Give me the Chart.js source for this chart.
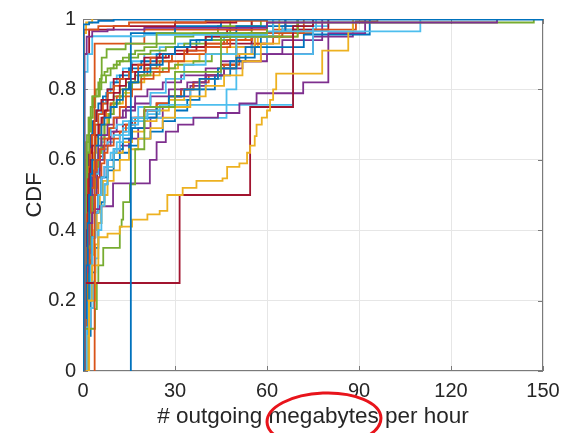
<!DOCTYPE html>
<html>
<head>
<meta charset="utf-8">
<script src="https://cdn.jsdelivr.net/npm/chart.js@4/dist/chart.umd.min.js"></script>
<style>
  html, body { margin: 0; padding: 0; background: #fff; }
  #chart { display: block; }
</style>
</head>
<body>
<canvas id="chart" width="576" height="433"></canvas>
<script>
// CDF of outgoing megabytes per hour, one stair curve per host

const xTicks = [0, 30, 60, 90, 120, 150];
const yTicks = [0, 0.2, 0.4, 0.6, 0.8, 1];
const yTickLabels = ['0', '0.2', '0.4', '0.6', '0.8', '1'];

// near-vertical curves hugging the top
const t1x = [0.2, 0.2, 2, 5, 10, 150];
const t1y = [0, 0.985, 0.99, 0.995, 0.998, 1];
const t2x = [0.3, 0.3, 5, 15, 40, 60];
const t2y = [0, 0.97, 0.98, 0.99, 0.995, 1];
const t3x = [0.1, 0.1, 1, 3];
const t3y = [0, 0.96, 0.99, 1];
const t4x = [0.5, 0.5, 1.2, 3, 8, 20, 60, 135];
const t4y = [0, 0.9, 0.95, 0.965, 0.97, 0.975, 0.99, 1];
const t5x = [0.2, 0.5, 1, 2, 3, 5.5, 6.1, 7.7, 13.9, 24, 60, 147];
const t5y = [0, 0.5, 0.65, 0.72, 0.78, 0.83, 0.89, 0.914, 0.93, 0.96, 0.99, 1];
const t6x = [0.5, 0.5, 1.5, 3, 20, 60, 110];
const t6y = [0, 0.85, 0.9, 0.951, 0.955, 0.965, 1];
const t7x = [0.3, 0.3, 2, 10, 30, 50];
const t7y = [0, 0.9, 0.97, 0.98, 0.99, 1];

// special curves
const s1x = [15.6, 15.6, 30, 45];
const s1y = [0, 0.96, 0.98, 1];
const s2x = [3.8, 3.8, 20, 60];
const s2y = [0, 0.93, 0.97, 1];
const s3x = [0.5, 2, 4, 5, 8, 12, 16, 21, 25, 27.5, 32.5, 37, 45.5, 47, 51, 53.5, 54.5, 56, 56.6, 58.3, 60, 61, 62, 63, 78, 86.5, 88];
const s3y = [0, 0.2, 0.3, 0.38, 0.39, 0.41, 0.43, 0.445, 0.455, 0.5, 0.52, 0.54, 0.547, 0.58, 0.59, 0.62, 0.64, 0.667, 0.7, 0.72, 0.74, 0.77, 0.8, 0.845, 0.91, 0.965, 1];
const s4x = [0.5, 0.5, 31.5, 54.5, 68.5, 75];
const s4y = [0, 0.25, 0.5, 0.75, 0.98, 1];
const s5x = [0.3, 0.3, 3.9, 4.5, 5, 6.6, 12, 12.6, 13.1, 15.3, 17, 20, 30, 45, 70];
const s5y = [0, 0.12, 0.176, 0.25, 0.3, 0.35, 0.41, 0.43, 0.48, 0.53, 0.63, 0.75, 0.85, 0.95, 1];
const s6x = [1.2, 1.2, 2.3, 3.4, 4, 5, 6, 7, 8, 10, 12, 15, 18, 22, 27, 33, 40, 50, 62];
const s6y = [0, 0.124, 0.179, 0.254, 0.32, 0.4, 0.47, 0.53, 0.58, 0.63, 0.67, 0.71, 0.75, 0.79, 0.83, 0.87, 0.9, 0.95, 1];

// main bundle
const b1x = [0.3, 0.6, 1, 1.5, 2, 2.5, 3, 4, 5, 6, 7, 9, 11, 13, 15, 18, 22, 26, 30, 35, 42, 50, 62];
const b1y = [0, 0.15, 0.3, 0.42, 0.5, 0.56, 0.6, 0.64, 0.67, 0.7, 0.72, 0.75, 0.77, 0.8, 0.82, 0.85, 0.87, 0.9, 0.92, 0.94, 0.96, 0.98, 1];
const b2x = [0.5, 0.8, 1.2, 1.8, 2.5, 3.5, 4.5, 5.5, 7, 8.5, 10, 12, 14, 16, 19, 23, 28, 33, 40, 48, 55, 72];
const b2y = [0, 0.2, 0.35, 0.45, 0.52, 0.57, 0.6, 0.63, 0.66, 0.69, 0.72, 0.75, 0.78, 0.8, 0.83, 0.85, 0.88, 0.9, 0.92, 0.94, 0.96, 1];
const b3x = [1, 1.5, 2, 3, 4, 5, 6, 7, 8, 10, 12, 15, 18, 22, 26, 30, 35, 40, 46, 52, 58, 64];
const b3y = [0, 0.1, 0.2, 0.3, 0.36, 0.42, 0.47, 0.5, 0.54, 0.57, 0.6, 0.63, 0.66, 0.69, 0.72, 0.75, 0.78, 0.81, 0.84, 0.88, 0.93, 1];
const b4x = [0.4, 0.7, 1, 1.5, 2, 3, 4, 5.5, 9.8, 21.8, 24, 27, 31, 36, 44, 51, 56.6, 71.8, 80, 92];
const b4y = [0, 0.15, 0.28, 0.36, 0.42, 0.45, 0.46, 0.468, 0.533, 0.6, 0.65, 0.68, 0.7, 0.72, 0.733, 0.76, 0.789, 0.82, 0.96, 1];
const b5x = [0.2, 0.4, 0.7, 1, 1.4, 2, 2.6, 3.2, 4, 5, 6, 7.5, 9, 11, 13, 15, 17, 20, 24, 30, 36, 44, 58];
const b5y = [0, 0.3, 0.45, 0.55, 0.62, 0.68, 0.72, 0.75, 0.78, 0.8, 0.82, 0.84, 0.86, 0.88, 0.89, 0.9, 0.91, 0.92, 0.93, 0.95, 0.96, 0.98, 1];
const b6x = [0.8, 1.2, 1.8, 2.5, 3, 4, 5, 6, 7, 8, 9, 11, 13, 15, 18, 21, 25, 68.5, 75];
const b6y = [0, 0.12, 0.2, 0.3, 0.38, 0.45, 0.5, 0.55, 0.58, 0.6, 0.62, 0.65, 0.68, 0.7, 0.72, 0.74, 0.756, 0.9, 1];
const b7x = [0.5, 0.8, 1.2, 1.6, 2, 2.5, 3, 4, 5, 6, 7, 8, 10, 12, 14, 17, 20, 24, 28, 34, 40, 47, 55];
const b7y = [0, 0.25, 0.4, 0.5, 0.56, 0.6, 0.64, 0.67, 0.7, 0.72, 0.74, 0.77, 0.79, 0.81, 0.83, 0.85, 0.87, 0.89, 0.9, 0.92, 0.95, 0.97, 1];
const b8x = [0.6, 1, 1.5, 2, 3, 4, 5, 6, 8, 10, 13, 16, 20, 24, 28, 33, 38, 44, 50, 56, 72, 93.5];
const b8y = [0, 0.1, 0.2, 0.3, 0.38, 0.45, 0.5, 0.55, 0.6, 0.63, 0.66, 0.69, 0.72, 0.75, 0.78, 0.8, 0.83, 0.86, 0.89, 0.92, 0.956, 1];
const b9x = [0.3, 0.5, 0.8, 1.2, 1.7, 2.3, 3, 4, 5, 6.5, 8, 10, 12, 15, 18, 22, 27, 33, 40, 47, 55, 65, 75, 89, 96];
const b9y = [0, 0.25, 0.4, 0.5, 0.58, 0.63, 0.67, 0.7, 0.73, 0.76, 0.79, 0.81, 0.83, 0.85, 0.87, 0.89, 0.9, 0.91, 0.93, 0.94, 0.95, 0.96, 0.97, 0.993, 1];
const b10x = [0.8, 1.3, 2, 2.8, 3.6, 4.5, 5.5, 6.5, 8, 10, 13, 16, 20, 24, 28, 33, 38, 44, 50, 56, 62];
const b10y = [0, 0.15, 0.25, 0.33, 0.4, 0.45, 0.5, 0.54, 0.58, 0.62, 0.65, 0.68, 0.71, 0.74, 0.77, 0.8, 0.83, 0.86, 0.9, 0.95, 1];
const b11x = [0.3, 0.6, 1, 1.5, 2, 3, 4, 5, 6, 8, 10, 13, 17, 22, 28, 34, 40, 46, 52, 58, 65, 78];
const b11y = [0, 0.2, 0.32, 0.42, 0.5, 0.55, 0.6, 0.64, 0.67, 0.7, 0.72, 0.74, 0.76, 0.78, 0.8, 0.82, 0.84, 0.86, 0.88, 0.9, 0.94, 1];
const b12x = [0.5, 1, 1.6, 2.2, 3, 4, 5, 6, 7, 8.5, 10, 12, 14, 16, 19, 22, 26, 30, 36, 42, 50, 60];
const b12y = [0, 0.2, 0.35, 0.45, 0.52, 0.58, 0.62, 0.66, 0.7, 0.73, 0.76, 0.78, 0.8, 0.82, 0.84, 0.85, 0.86, 0.87, 0.88, 0.9, 0.95, 1];
const b13x = [0.4, 0.8, 1.3, 2, 3, 4, 5, 6, 7, 9, 11, 13, 16, 46.8, 50, 60];
const b13y = [0, 0.25, 0.38, 0.48, 0.55, 0.6, 0.63, 0.65, 0.67, 0.69, 0.7, 0.71, 0.719, 0.8, 0.9, 1];
const b14x = [0.2, 0.5, 0.9, 1.4, 2, 2.8, 3.6, 4.5, 6, 8, 10, 13, 16, 20, 25, 30, 37, 45, 55, 68.5, 80];
const b14y = [0, 0.3, 0.45, 0.55, 0.62, 0.67, 0.71, 0.74, 0.77, 0.8, 0.83, 0.85, 0.87, 0.89, 0.9, 0.91, 0.92, 0.93, 0.95, 0.97, 1];
const b15x = [1.5, 2, 2.5, 3, 4, 5, 6, 7, 8, 10, 12, 15, 18, 22, 26, 30, 34, 38, 43, 48, 53, 58, 66];
const b15y = [0, 0.1, 0.2, 0.28, 0.35, 0.42, 0.48, 0.53, 0.57, 0.6, 0.62, 0.64, 0.66, 0.68, 0.71, 0.74, 0.77, 0.8, 0.84, 0.88, 0.92, 0.96, 1];
const b16x = [0.6, 1, 1.5, 2.2, 3, 4, 5, 6, 7, 8, 10, 12, 14, 17, 20, 24, 28, 32, 36, 41, 46, 51, 56, 62, 70];
const b16y = [0, 0.15, 0.28, 0.38, 0.45, 0.5, 0.55, 0.59, 0.62, 0.64, 0.66, 0.68, 0.7, 0.72, 0.74, 0.76, 0.78, 0.8, 0.82, 0.84, 0.87, 0.9, 0.93, 0.96, 1];
const b17x = [0.3, 0.6, 1, 1.5, 2, 2.5, 3.5, 4.5, 6, 8, 10, 13, 16, 20, 25, 31, 38, 47, 57, 70];
const b17y = [0, 0.2, 0.35, 0.45, 0.52, 0.57, 0.62, 0.66, 0.7, 0.73, 0.76, 0.79, 0.82, 0.84, 0.86, 0.88, 0.9, 0.92, 0.95, 1];
const b18x = [0.5, 0.9, 1.4, 2, 2.8, 3.6, 4.5, 5.5, 7, 9, 11, 14, 17, 21, 26, 32, 40, 50, 60, 75, 88];
const b18y = [0, 0.15, 0.28, 0.38, 0.45, 0.5, 0.55, 0.6, 0.64, 0.68, 0.72, 0.75, 0.78, 0.8, 0.82, 0.84, 0.86, 0.88, 0.9, 0.95, 1];
const b19x = [0.2, 0.4, 0.6, 0.9, 1.3, 1.8, 2.5, 3.3, 4.2, 5, 6, 7, 8, 10, 12, 15, 18, 22, 27, 33, 40, 48, 55];
const b19y = [0, 0.35, 0.5, 0.6, 0.67, 0.72, 0.75, 0.78, 0.8, 0.82, 0.84, 0.85, 0.86, 0.87, 0.88, 0.89, 0.9, 0.91, 0.92, 0.93, 0.94, 0.96, 1];
const b20x = [0.7, 1.1, 1.6, 2.2, 3, 4, 5, 6.5, 8, 10, 13, 17, 21, 25, 30, 35, 40, 45, 50, 55, 65, 76];
const b20y = [0, 0.2, 0.32, 0.42, 0.5, 0.56, 0.6, 0.63, 0.65, 0.67, 0.69, 0.71, 0.73, 0.75, 0.77, 0.8, 0.83, 0.86, 0.9, 0.95, 0.97, 1];
const b21x = [0.9, 1.3, 1.8, 2.4, 3, 3.8, 4.6, 5.5, 6.5, 8, 10, 13, 16, 20, 24, 28, 32, 36, 40, 45, 50, 55, 60, 66];
const b21y = [0, 0.15, 0.28, 0.38, 0.46, 0.52, 0.57, 0.61, 0.64, 0.66, 0.68, 0.7, 0.72, 0.74, 0.76, 0.78, 0.8, 0.82, 0.84, 0.87, 0.9, 0.93, 0.96, 1];
const b22x = [0.3, 0.5, 0.8, 1.2, 1.7, 2.3, 3, 4, 5, 6.5, 8, 10, 12, 15, 19, 24, 30, 37, 45, 54, 62, 70];
const b22y = [0, 0.3, 0.45, 0.55, 0.62, 0.67, 0.71, 0.74, 0.76, 0.78, 0.8, 0.82, 0.84, 0.86, 0.88, 0.9, 0.92, 0.94, 0.95, 0.96, 0.98, 1];
const b23x = [0.4, 0.7, 1.1, 1.6, 2.2, 3, 3.8, 4.6, 5.5, 6.5, 7.5, 9, 11, 13, 15, 18, 21, 25, 29, 34, 40, 46, 53, 62, 70];
const b23y = [0, 0.25, 0.38, 0.48, 0.55, 0.6, 0.64, 0.67, 0.7, 0.72, 0.74, 0.76, 0.78, 0.8, 0.82, 0.84, 0.86, 0.88, 0.9, 0.92, 0.93, 0.94, 0.95, 0.97, 1];
const b24x = [1, 1.6, 2.2, 3, 4, 5, 6, 7, 8, 10, 12, 15, 18, 22, 26, 30, 35, 40, 45, 50, 56, 62];
const b24y = [0, 0.2, 0.3, 0.38, 0.45, 0.5, 0.55, 0.58, 0.6, 0.62, 0.64, 0.66, 0.69, 0.72, 0.75, 0.78, 0.81, 0.84, 0.88, 0.92, 0.96, 1];
const b25x = [0.6, 1, 1.5, 2, 3, 4, 5, 6, 7, 8, 9, 10, 12, 14, 17, 20, 24, 29, 34, 40, 48];
const b25y = [0, 0.2, 0.32, 0.42, 0.5, 0.57, 0.62, 0.66, 0.7, 0.73, 0.76, 0.78, 0.8, 0.82, 0.84, 0.86, 0.88, 0.9, 0.92, 0.95, 1];
const b26x = [0.3, 0.6, 1, 1.5, 2.2, 3, 4, 5, 6, 7.5, 9, 11, 13, 16, 20, 25, 31, 38, 46, 55, 65, 80];
const b26y = [0, 0.3, 0.45, 0.55, 0.62, 0.67, 0.7, 0.73, 0.76, 0.79, 0.82, 0.84, 0.86, 0.88, 0.9, 0.92, 0.93, 0.94, 0.95, 0.96, 0.98, 1];

const curves = [
  [t1x, t1y], [t2x, t2y], [t3x, t3y], [t4x, t4y], [t5x, t5y], [t6x, t6y], [t7x, t7y],
  [s1x, s1y], [s2x, s2y], [s3x, s3y], [s4x, s4y], [s5x, s5y], [s6x, s6y],
  [b1x, b1y], [b2x, b2y], [b3x, b3y], [b4x, b4y], [b5x, b5y], [b6x, b6y], [b7x, b7y],
  [b8x, b8y], [b9x, b9y], [b10x, b10y], [b11x, b11y], [b12x, b12y], [b13x, b13y],
  [b14x, b14y], [b15x, b15y], [b16x, b16y], [b17x, b17y], [b18x, b18y], [b19x, b19y],
  [b20x, b20y], [b21x, b21y], [b22x, b22y], [b23x, b23y], [b24x, b24y], [b25x, b25y],
  [b26x, b26y]
];

// MATLAB default line colours
const palette = ['#0072BD', '#D95319', '#EDB120', '#7E2F8E', '#77AC30', '#4DBEEE', '#A2142F'];
const curveColor = [
  0, 1, 2, 3, 4, 5, 6,
  0, 1, 2, 6, 4, 5,
  0, 1, 2, 3, 4, 5, 6, 0, 1, 2, 3, 4, 5, 6, 0, 1, 2, 3, 4, 5, 6, 0, 1, 3, 4, 5
];

// 'before' = horizontal at the old level, then the jump at the new x
const datasets = curves.map(([xs, ys], i) => ({
  data: xs.map((x, j) => ({ x: x, y: ys[j] })),
  borderColor: palette[curveColor[i]],
  borderWidth: 1.8,
  stepped: 'before',
  pointRadius: 0,
  fill: false
}));

// box, inward ticks and the red hand-drawn ellipse
const matlabAxes = {
  id: 'matlabAxes',
  beforeDatasetsDraw(chart) {
    const { ctx, chartArea: a, scales: { x, y } } = chart;
    ctx.save();
    ctx.strokeStyle = '#7a7a7a';
    ctx.lineWidth = 1;
    ctx.strokeRect(a.left + 0.5, a.top + 0.5, a.right - a.left - 1, a.bottom - a.top - 1);
    ctx.beginPath();
    xTicks.forEach(v => {
      const px = Math.round(x.getPixelForValue(v)) + 0.5;
      ctx.moveTo(px, a.bottom); ctx.lineTo(px, a.bottom - 5);
      ctx.moveTo(px, a.top); ctx.lineTo(px, a.top + 5);
    });
    yTicks.forEach(v => {
      const py = Math.round(y.getPixelForValue(v)) + 0.5;
      ctx.moveTo(a.left, py); ctx.lineTo(a.left + 5, py);
      ctx.moveTo(a.right, py); ctx.lineTo(a.right - 5, py);
    });
    ctx.stroke();
    ctx.restore();
  },
  afterDraw(chart) {
    const ctx = chart.ctx;
    ctx.save();
    ctx.strokeStyle = '#e8141b';
    ctx.lineWidth = 3;
    ctx.beginPath();
    ctx.ellipse(324, 420, 57, 27, -0.04, 0, Math.PI * 2);
    ctx.stroke();
    ctx.restore();
  }
};

Chart.defaults.font.family = '"Liberation Sans", Arial, Helvetica, sans-serif';
Chart.defaults.color = '#262626';

new Chart(document.getElementById('chart'), {
  type: 'line',
  data: { datasets: datasets },
  options: {
    responsive: false,
    animation: false,
    devicePixelRatio: 1,
    layout: { padding: { top: 12, right: 33, left: 0, bottom: 0 } },
    plugins: { legend: { display: false }, tooltip: { enabled: false } },
    scales: {
      x: {
        type: 'linear',
        min: 0,
        max: 150,
        afterFit: s => { s.height = 62; },
        afterBuildTicks: s => { s.ticks = xTicks.map(v => ({ value: v })); },
        ticks: { font: { size: 20 }, padding: 8, maxRotation: 0, callback: v => String(v) },
        grid: { color: '#e6e6e6', drawTicks: false },
        border: { display: false },
        title: { display: true, text: '# outgoing megabytes per hour', font: { size: 22.5 }, padding: { top: 0, bottom: 3 } }
      },
      y: {
        type: 'linear',
        min: 0,
        max: 1,
        afterFit: s => { s.width = 83; },
        afterBuildTicks: s => { s.ticks = yTicks.map(v => ({ value: v })); },
        ticks: { font: { size: 20 }, padding: 7, callback: v => yTickLabels[yTicks.indexOf(v)] },
        grid: { color: '#e6e6e6', drawTicks: false },
        border: { display: false },
        title: { display: true, text: 'CDF', font: { size: 22 }, padding: { top: 22, bottom: 0 } }
      }
    }
  },
  plugins: [matlabAxes]
});
</script>
</body>
</html>
